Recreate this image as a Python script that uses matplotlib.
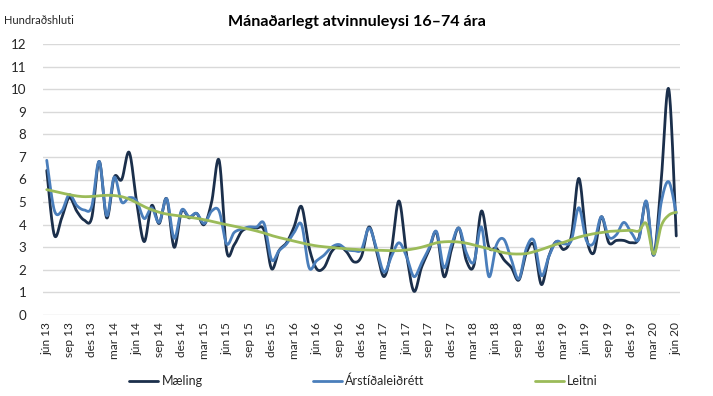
import numpy as np
import matplotlib
matplotlib.use("Agg")
import matplotlib.pyplot as plt

plt.rcParams['font.family'] = ['Lato', 'DejaVu Sans']

# Monthly categories jún 2013 .. jún 2020
month_names = ['jan', 'feb', 'mar', 'apr', 'maí', 'jún', 'júl', 'ágú', 'sep', 'okt', 'nóv', 'des']
categories = []
for k in range(85):
    m = (5 + k) % 12
    y = 13 + (5 + k) // 12
    categories.append(f"{month_names[m]} {y}")

tick_labels = ["jún 13", "sep 13", "des 13", "mar 14", "jún 14", "sep 14", "des 14", "mar 15",
               "jún 15", "sep 15", "des 15", "mar 16", "jún 16", "sep 16", "des 16", "mar 17",
               "jún 17", "sep 17", "des 17", "mar 18", "jún 18", "sep 18", "des 18", "mar 19",
               "jún 19", "sep 19", "des 19", "mar 20", "jún 20"]

maeling = [6.4, 3.55, 4.3, 5.2, 4.6, 4.2, 4.3, 6.8, 4.3, 6.1, 6.0, 7.2, 5.0, 3.25, 4.85, 4.05, 5.15,
           3.0, 4.6, 4.3, 4.5, 4.0, 5.0, 6.85, 2.85, 3.1, 3.7, 3.85, 3.85, 3.75, 2.05, 2.85, 3.2,
           3.9, 4.8, 3.0, 2.05, 2.1, 2.8, 3.05, 2.8, 2.35, 2.6, 3.9, 2.85, 1.7, 2.9, 5.05, 2.7,
           1.05, 2.1, 2.85, 3.65, 1.7, 2.9, 3.85, 2.4, 2.2, 4.6, 3.0, 2.95, 2.45, 2.1, 1.55, 2.75,
           3.1, 1.35, 2.6, 3.25, 2.9, 3.5, 6.05, 3.45, 2.75, 4.35, 3.2, 3.3, 3.3, 3.2, 3.4, 5.0,
           2.65, 6.0, 10.0, 3.5]

arstidaleidrett = [6.85, 4.65, 4.6, 5.33, 4.85, 4.65, 4.8, 6.8, 4.4, 6.1, 5.0, 5.2, 5.05, 4.27, 4.75,
                   4.1, 5.15, 3.4, 4.65, 4.35, 4.5, 4.05, 4.6, 4.6, 3.15, 3.65, 3.8, 3.9, 3.9, 4.05,
                   2.45, 2.85, 3.15, 3.65, 4.0, 2.1, 2.4, 2.65, 3.0, 3.12, 2.9, 2.85, 2.9, 3.85, 2.95,
                   1.9, 2.6, 3.2, 2.6, 1.7, 2.3, 2.95, 3.7, 2.1, 3.1, 3.85, 2.75, 2.35, 3.9, 1.7, 3.1,
                   3.35, 2.45, 1.6, 2.95, 3.3, 1.75, 2.6, 3.25, 3.15, 3.3, 4.75, 3.3, 3.2, 4.35, 3.45,
                   3.55, 4.1, 3.65, 3.35, 5.05, 2.65, 5.0, 5.9, 4.5]

leitni = [5.55, 5.48, 5.4, 5.33, 5.27, 5.24, 5.25, 5.28, 5.3, 5.29, 5.24, 5.13, 4.97, 4.8, 4.66, 4.55,
          4.47, 4.42, 4.38, 4.33, 4.28, 4.22, 4.15, 4.07, 4.0, 3.93, 3.86, 3.8, 3.72, 3.63, 3.52, 3.43,
          3.35, 3.27, 3.19, 3.12, 3.06, 3.02, 2.99, 2.96, 2.93, 2.91, 2.89, 2.88, 2.87, 2.86, 2.85,
          2.85, 2.88, 2.93, 3.0, 3.1, 3.2, 3.24, 3.25, 3.23, 3.18, 3.1, 3.02, 2.93, 2.84, 2.76, 2.71,
          2.7, 2.72, 2.8, 2.9, 3.02, 3.13, 3.22, 3.34, 3.45, 3.53, 3.6, 3.65, 3.7, 3.72, 3.74, 3.75,
          3.72, 4.05, 2.7, 3.95, 4.42, 4.55]

series_names = ["Mæling", "Árstíðaleiðrétt", "Leitni"]
colors = ["#1B2F4B", "#4A7EBB", "#9BBB59"]


def smooth(yv, n=20):
    """Bezier smoothing through the points (like Excel smoothed lines)."""
    yv = np.asarray(yv, float)
    xv = np.arange(len(yv), dtype=float)
    P = np.column_stack([xv, yv])
    P = np.vstack([P[0], P, P[-1]])
    out = []
    t = np.linspace(0, 1, n, endpoint=False)[:, None]
    for i in range(1, len(P) - 2):
        p0, p1, p2, p3 = P[i - 1], P[i], P[i + 1], P[i + 2]
        c1 = p1 + (p2 - p0) / 6.0
        c2 = p2 - (p3 - p1) / 6.0
        seg = ((1 - t) ** 3) * p1 + 3 * ((1 - t) ** 2) * t * c1 + 3 * (1 - t) * t ** 2 * c2 + t ** 3 * p2
        out.append(seg)
    out.append(P[-2][None, :])
    out = np.vstack(out)
    return out[:, 0], out[:, 1]


fig = plt.figure(figsize=(7.13, 3.96), dpi=100)
ax = fig.add_axes([43 / 713, 1 - 315 / 396, 637 / 713, 271 / 396])

x = np.arange(len(categories))
for vals, name, col in zip([maeling, arstidaleidrett, leitni], series_names, colors):
    sx, sy = smooth(vals)
    ax.plot(sx, sy, color=col, lw=2.0, label=name, solid_capstyle='round', zorder=3)

ax.set_xlim(-0.5, len(categories) - 0.5)
ax.set_ylim(0, 12)
ax.set_yticks(range(0, 13))
ax.set_xticks(x[::3])
ax.set_xticklabels(tick_labels, rotation=90, fontsize=8.6, color="#262626")
ax.tick_params(axis='y', length=0, pad=12, labelsize=9.6, labelcolor="#262626")
ax.tick_params(axis='x', length=0, pad=5)
ax.grid(axis='y', color="#D9D9D9", lw=1.0, zorder=0)
for s in ax.spines.values():
    s.set_visible(False)

fig.text(0.5, 1 - 22 / 396, "Mánaðarlegt atvinnuleysi 16–74 ára", ha='center', va='center',
         fontsize=11.6, fontweight='bold', color="#000000")
fig.text(4 / 713, 1 - 21 / 396, "Hundraðshluti", ha='left', va='center', fontsize=8, color="#262626")

leg = fig.legend(loc='center', bbox_to_anchor=(0.51, 1 - 381 / 396), ncol=3, frameon=False,
                 fontsize=9, handlelength=2.3, handletextpad=0.3, columnspacing=8.8)
for t in leg.get_texts():
    t.set_color("#262626")

fig.savefig("out.png", dpi=100)
